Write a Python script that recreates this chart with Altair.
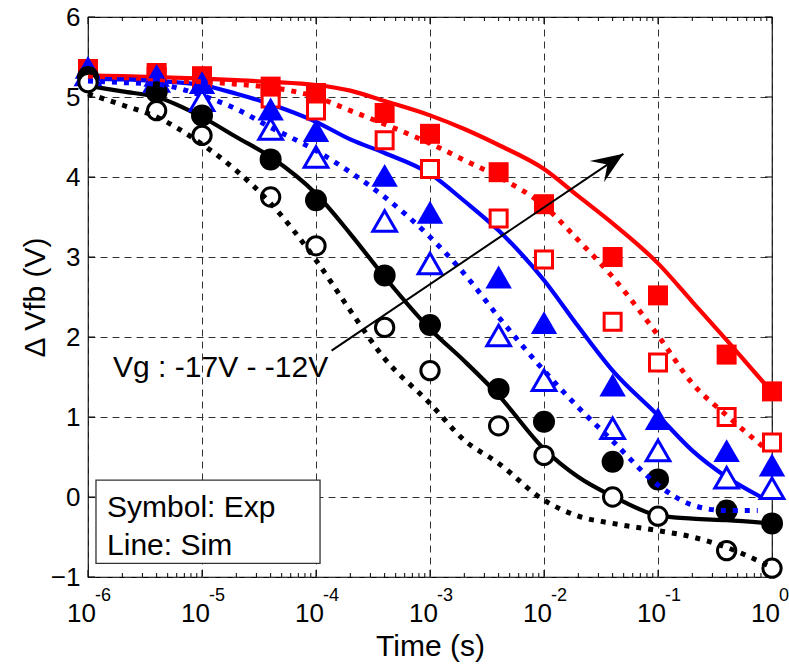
import altair as alt
import pandas as pd

FONT = "Liberation Sans"
RED = "#FF0000"
BLUE = "#0000FF"
BLACK = "#000000"

# ---------------- data ----------------
t_exp = [1e-6, 4e-6, 1e-5, 4e-5, 1e-4, 4e-4, 1e-3, 4e-3, 1e-2, 4e-2, 1e-1, 4e-1, 1.0]
exp_red_filled = [5.35, 5.30, 5.26, 5.13, 5.05, 4.80, 4.54, 4.06, 3.66, 3.00, 2.52, 1.78, 1.32]
exp_red_open = [5.30, 5.25, 5.20, 4.98, 4.83, 4.46, 4.10, 3.48, 2.97, 2.19, 1.68, 1.00, 0.68]
exp_blue_filled = [5.37, 5.27, 5.18, 4.85, 4.58, 4.02, 3.56, 2.75, 2.18, 1.40, 0.98, 0.58, 0.40]
exp_blue_open = [5.28, 5.20, 4.96, 4.60, 4.25, 3.45, 2.92, 2.02, 1.46, 0.86, 0.58, 0.24, 0.11]
exp_black_filled = [5.25, 5.06, 4.77, 4.22, 3.71, 2.77, 2.15, 1.35, 0.94, 0.44, 0.22, -0.17, -0.33]
exp_black_open = [5.18, 4.83, 4.52, 3.75, 3.14, 2.12, 1.58, 0.89, 0.52, 0.00, -0.24, -0.67, -0.89]

t_sim = [1e-6, 2e-6, 4e-6, 1e-5, 2e-5, 4e-5, 1e-4, 2e-4, 4e-4, 1e-3,
         2e-3, 4e-3, 1e-2, 2e-2, 4e-2, 1e-1, 2e-1, 4e-1, 1.0]
t_sim_red_dot = t_sim[:-1] + [0.85]
t_sim_blue_solid = t_sim[:-1] + [0.8]
t_sim_blue_dot = t_sim[:-1] + [0.75]
sim_red_solid = [5.27, 5.26, 5.25, 5.23, 5.21, 5.19, 5.15, 5.08, 4.95, 4.77,
                 4.60, 4.40, 4.10, 3.76, 3.42, 2.92, 2.44, 1.96, 1.31]
sim_red_dot = [5.25, 5.22, 5.20, 5.19, 5.16, 5.12, 5.00, 4.83, 4.66, 4.42,
               4.21, 4.00, 3.64, 3.21, 2.75, 2.02, 1.42, 1.02, 0.62]
sim_blue_solid = [5.23, 5.22, 5.20, 5.15, 5.04, 4.91, 4.69, 4.47, 4.30, 4.04,
                  3.70, 3.33, 2.71, 2.13, 1.58, 1.02, 0.58, 0.25, 0.00]
sim_blue_dot = [5.20, 5.18, 5.16, 5.02, 4.85, 4.62, 4.33, 4.06, 3.75, 3.25,
                2.79, 2.25, 1.58, 1.12, 0.70, 0.15, -0.10, -0.17, -0.17]
sim_black_solid = [5.14, 5.07, 5.00, 4.75, 4.50, 4.25, 3.79, 3.29, 2.75, 2.10,
                   1.70, 1.27, 0.60, 0.25, 0.01, -0.23, -0.27, -0.29, -0.33]
sim_black_dot = [5.04, 4.90, 4.75, 4.41, 4.08, 3.67, 2.96, 2.33, 1.73, 1.17,
                 0.71, 0.42, -0.04, -0.24, -0.33, -0.42, -0.50, -0.63, -0.88]

x_major = [1e-6, 1e-5, 1e-4, 1e-3, 1e-2, 1e-1, 1.0]
x_exponents = ["-6", "-5", "-4", "-3", "-2", "-1", "0"]
x_minor = [k * 10.0 ** e for e in range(-6, 0) for k in range(2, 10)]
y_major = [-1, 0, 1, 2, 3, 4, 5, 6]

# annotation anchors (data coordinates)
arrow_t = [1.37e-4, 0.0497]
arrow_v = [1.83, 4.29]
vg_label = "Vg : -17V - -12V"
vg_pos = (1.66e-6, 1.50)
box_t = (1.175e-6, 1.085e-4)
box_v = (0.21, -0.83)
box_lines = ["Symbol: Exp", "Line: Sim"]
box_text_t = 1.47e-6
box_text_v = [-0.25, -0.72]

W, H = 684, 560

# ---------------- encodings ----------------
xs = alt.Scale(type="log", domain=[1e-6, 1.0], nice=False)
ys = alt.Scale(domain=[-1, 6], nice=False, zero=False)

x_axis = alt.Axis(values=x_major, labelExpr="'10'", labelFont=FONT, labelFontSize=26,
                  labelColor="black", labelPadding=23, labelOffset=-7, labelFlush=False,
                  labelOverlap=False, ticks=False, tickSize=0, domain=False,
                  grid=True, gridDash=[7, 5], gridColor="#333333", gridWidth=1,
                  title="Time (s)", titleFont=FONT, titleFontSize=30,
                  titleFontWeight="normal", titleColor="black", titlePadding=5)
y_axis = alt.Axis(values=y_major, format="d", labelFont=FONT, labelFontSize=26,
                  labelColor="black", labelPadding=8, labelFlush=False,
                  labelOverlap=False, ticks=False, tickSize=0, domain=False,
                  grid=True, gridDash=[7, 5], gridColor="#333333", gridWidth=1,
                  title="Δ Vfb (V)", titleFont=FONT, titleFontSize=30,
                  titleFontWeight="normal", titleColor="black", titlePadding=0)

X = alt.X("t:Q", scale=xs, axis=x_axis)
Y = alt.Y("v:Q", scale=ys, axis=y_axis)

layers = []

# tick marks (inside the box, like MATLAB)
df_xmaj = pd.DataFrame({"t": x_major})
df_xmin = pd.DataFrame({"t": x_minor})
for df, ln in [(df_xmaj, 7), (df_xmin, 4)]:
    layers.append(alt.Chart(df).mark_rule(color="black", strokeWidth=1).encode(
        x=X, y=alt.value(H), y2=alt.value(H - ln)))
    layers.append(alt.Chart(df).mark_rule(color="black", strokeWidth=1).encode(
        x=X, y=alt.value(0), y2=alt.value(ln)))
df_ymaj = pd.DataFrame({"v": y_major})
layers.append(alt.Chart(df_ymaj).mark_rule(color="black", strokeWidth=1).encode(
    y=Y, x=alt.value(0), x2=alt.value(7)))
layers.append(alt.Chart(df_ymaj).mark_rule(color="black", strokeWidth=1).encode(
    y=Y, x=alt.value(W), x2=alt.value(W - 7)))

# exponent labels
df_exp = pd.DataFrame({"t": x_major, "lab": x_exponents})
layers.append(alt.Chart(df_exp).mark_text(font=FONT, fontSize=18, align="left",
                                          baseline="alphabetic", dx=7, color="black").encode(
    x=X, y=alt.value(584), text="lab:N"))

# legend-like box
df_box = pd.DataFrame({"t": [box_t[0]], "t2": [box_t[1]], "v": [box_v[0]], "v2": [box_v[1]]})
layers.append(alt.Chart(df_box).mark_rect(fill="white", stroke="#333333", strokeWidth=1.3).encode(
    x=X, x2="t2:Q", y=Y, y2="v2:Q"))
df_boxtxt = pd.DataFrame({"t": [box_text_t] * 2, "v": box_text_v, "lab": box_lines})
layers.append(alt.Chart(df_boxtxt).mark_text(font=FONT, fontSize=30, align="left",
                                             baseline="alphabetic", color="black").encode(
    x=X, y=Y, text="lab:N"))


def line_layer(ts, vs, color, dotted):
    df = pd.DataFrame({"t": ts, "v": vs})
    kw = dict(color=color, strokeWidth=4.2, interpolate="monotone")
    if dotted:
        kw.update(strokeWidth=5, strokeDash=[5, 7], strokeCap="butt")
    return alt.Chart(df).mark_line(**kw).encode(x=X, y=Y)


def marker_layer(vs, shape, color, filled, size):
    df = pd.DataFrame({"t": t_exp, "v": vs})
    if filled:
        m = alt.Chart(df).mark_point(shape=shape, filled=True, color=color, size=size,
                                     opacity=1, strokeWidth=0)
    else:
        m = alt.Chart(df).mark_point(shape=shape, fill="white", fillOpacity=1, stroke=color,
                                     strokeWidth=3, size=size, opacity=1)
    return m.encode(x=X, y=Y)


# solid (simulation) lines
layers.append(line_layer(t_sim, sim_red_solid, RED, False))
layers.append(line_layer(t_sim_blue_solid, sim_blue_solid, BLUE, False))
layers.append(line_layer(t_sim, sim_black_solid, BLACK, False))

# experimental symbols
layers.append(marker_layer(exp_red_open, "square", RED, False, 289))
layers.append(marker_layer(exp_red_filled, "square", RED, True, 400))
layers.append(marker_layer(exp_blue_open, "triangle-up", BLUE, False, 560))
layers.append(marker_layer(exp_blue_filled, "triangle-up", BLUE, True, 700))
layers.append(marker_layer(exp_black_filled, "circle", BLACK, True, 484))
layers.append(marker_layer(exp_black_open, "circle", BLACK, False, 335))

# dotted (simulation) lines
layers.append(line_layer(t_sim_red_dot, sim_red_dot, RED, True))
layers.append(line_layer(t_sim_blue_dot, sim_blue_dot, BLUE, True))
layers.append(line_layer(t_sim, sim_black_dot, BLACK, True))

# arrow annotation
df_arrow = pd.DataFrame({"t": arrow_t, "v": arrow_v})
layers.append(alt.Chart(df_arrow).mark_line(color="black", strokeWidth=2).encode(x=X, y=Y))
df_tip = pd.DataFrame({"t": [arrow_t[1]], "v": [arrow_v[1]]})
layers.append(alt.Chart(df_tip).mark_point(shape="M0,0L-2,-0.8L-1.2,0L-2,0.8Z", filled=True,
                                           color="black", size=1024, angle=326, opacity=1,
                                           strokeWidth=0).encode(x=X, y=Y))
df_vg = pd.DataFrame({"t": [vg_pos[0]], "v": [vg_pos[1]], "lab": [vg_label]})
layers.append(alt.Chart(df_vg).mark_text(font=FONT, fontSize=30, align="left",
                                         baseline="alphabetic", color="black").encode(
    x=X, y=Y, text="lab:N"))

chart = alt.layer(*layers).properties(
    width=W, height=H,
    padding={"left": 88, "top": 17, "right": 17, "bottom": 87},
    autosize=alt.AutoSizeParams(type="none"),
    background="white",
).configure_view(stroke="black", strokeWidth=1.2)

chart.save("out.html", embed_options={"renderer": "svg", "actions": False})
